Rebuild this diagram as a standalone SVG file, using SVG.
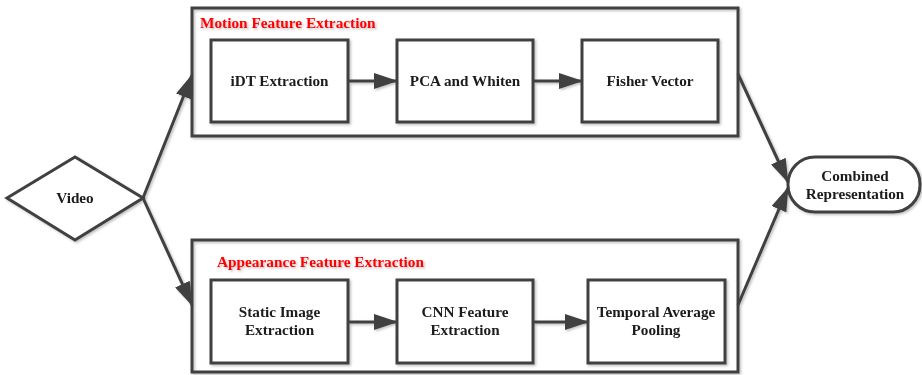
<svg xmlns="http://www.w3.org/2000/svg" width="922" height="375" viewBox="0 0 922 375">
<defs>
<filter id="sh" x="-5%" y="-5%" width="110%" height="115%">
<feDropShadow dx="1.5" dy="1.5" stdDeviation="1" flood-color="#000" flood-opacity="0.25"/>
</filter>
<marker id="ah2" markerWidth="24" markerHeight="16" refX="23" refY="8" orient="auto" markerUnits="userSpaceOnUse" viewBox="0 0 24 16">
<path d="M0,0 L24,8 L0,16 z" fill="#404040"/>
</marker>
</defs>
<style>
.box{fill:#fff;stroke:#404040;stroke-width:3}
.frame{fill:none;stroke:#404040;stroke-width:3}
.t{font-family:"Liberation Serif",serif;font-weight:bold;font-size:15.2px;fill:#1a1a1a;text-anchor:middle}
.title{font-family:"Liberation Serif",serif;font-weight:bold;font-size:15.3px;fill:#ff0000}
.edge{fill:none;stroke:#404040;stroke-width:3;marker-end:url(#ah2)}
</style>
<rect width="922" height="375" fill="#fff"/>
<g filter="url(#sh)">
<g id="motion-group">
<rect class="frame" x="192" y="8" width="546" height="128"/>
<text class="title" x="200" y="28">Motion Feature Extraction</text>
</g>
<g id="appearance-group">
<rect class="frame" x="192" y="240" width="546" height="132"/>
<text class="title" x="217" y="267">Appearance Feature Extraction</text>
</g>
<g id="video">
<polygon class="box" points="7,198 75,157 143,198 75,240"/>
<text class="t" x="75" y="203">Video</text>
</g>
<g id="idt">
<rect class="box" x="211" y="40" width="137" height="82"/>
<text class="t" x="279.5" y="86">iDT Extraction</text>
</g>
<g id="pca">
<rect class="box" x="397" y="40" width="136" height="82"/>
<text class="t" x="465" y="86">PCA and Whiten</text>
</g>
<g id="fisher">
<rect class="box" x="582" y="40" width="136" height="82"/>
<text class="t" x="650" y="86">Fisher Vector</text>
</g>
<g id="static">
<rect class="box" x="211" y="280" width="137" height="83"/>
<text class="t" x="279.5" y="317">Static Image</text>
<text class="t" x="279.5" y="335">Extraction</text>
</g>
<g id="cnn">
<rect class="box" x="397" y="280" width="136" height="83"/>
<text class="t" x="465" y="317">CNN Feature</text>
<text class="t" x="465" y="335">Extraction</text>
</g>
<g id="temporal">
<rect class="box" x="588" y="280" width="137" height="83"/>
<text class="t" x="656" y="317">Temporal Average</text>
<text class="t" x="656" y="335">Pooling</text>
</g>
<g id="combined">
<rect class="box" x="788" y="157" width="132" height="55" rx="27" ry="27"/>
<text class="t" x="855" y="181">Combined</text>
<text class="t" x="855" y="199">Representation</text>
</g>
<g id="connectors">
<line class="edge" x1="348" y1="81" x2="397" y2="81"/>
<line class="edge" x1="533" y1="81" x2="582" y2="81"/>
<line class="edge" x1="348" y1="322" x2="397" y2="322"/>
<line class="edge" x1="533" y1="322" x2="588" y2="322"/>
<line class="edge" x1="143" y1="198" x2="192" y2="75"/>
<line class="edge" x1="143" y1="198" x2="192" y2="305"/>
<line class="edge" x1="738" y1="74" x2="788" y2="182"/>
<line class="edge" x1="738" y1="305" x2="788" y2="188"/>
</g>
</g>
</svg>
